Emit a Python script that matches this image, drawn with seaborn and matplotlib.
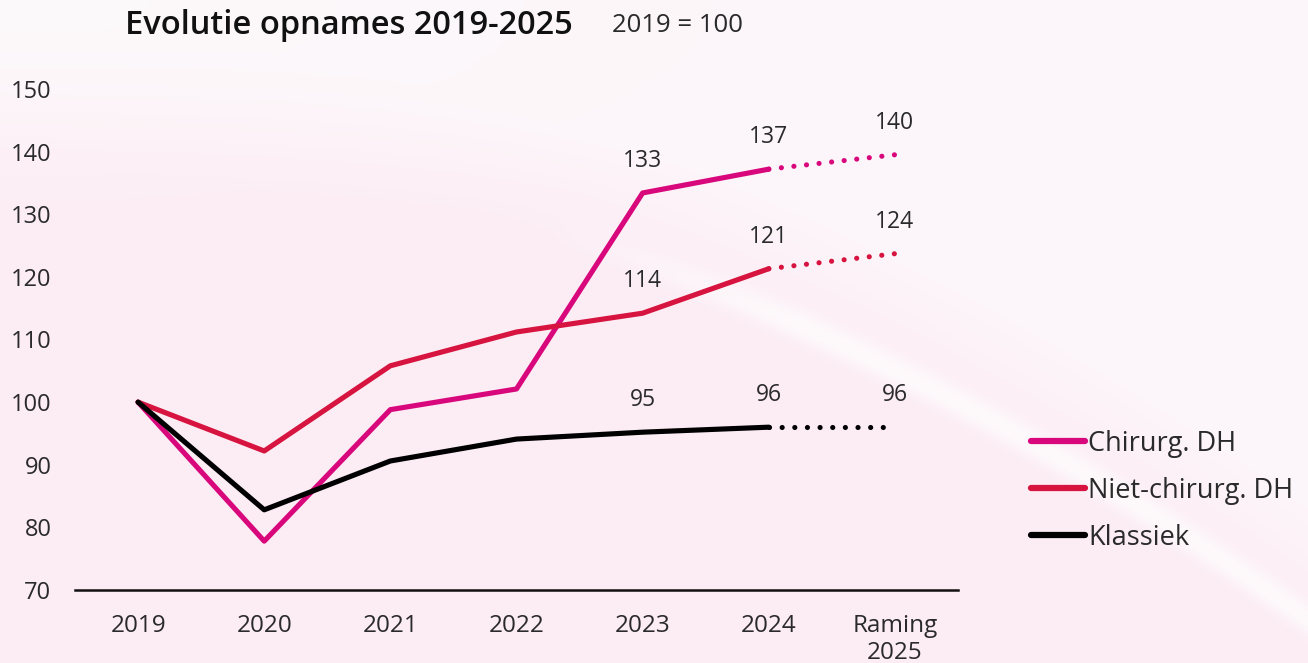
import numpy as np
import pandas as pd
import matplotlib.pyplot as plt
import seaborn as sns

# ==============================
# DATA
# ==============================

years = ["2019", "2020", "2021", "2022", "2023", "2024", "Raming\n2025"]
series_names = ["Chirurg. DH", "Niet-chirurg. DH", "Klassiek"]

chirurg = [100, 77.8, 98.8, 102.1, 133.4, 137.2, 139.5]
niet_chirurg = [100, 92.2, 105.8, 111.2, 114.2, 121.3, 123.7]
klassiek = [100, 82.8, 90.6, 94.1, 95.2, 96.0, 96.0]

# labels shown for the last three points
label_idx = [4, 5, 6]
chirurg_labels = ["133", "137", "140"]
niet_chirurg_labels = ["114", "121", "124"]
klassiek_labels = ["95", "96", "96"]

colors = {"Chirurg. DH": "#d8077c", "Niet-chirurg. DH": "#d6143f", "Klassiek": "#000000"}

# ==============================
# BUILD TABLE
# ==============================

rows = []
for name, vals in zip(series_names, [chirurg, niet_chirurg, klassiek]):
    for i, v in enumerate(vals):
        rows.append({"Serie": name, "x": i, "Jaar": years[i], "Waarde": v})
df = pd.DataFrame(rows)
df_real = df[df["x"] <= 5]
df_raming = df[df["x"] >= 5]

# ==============================
# PLOT
# ==============================

sns.set_theme(style="white")
plt.rcParams["font.family"] = ["Open Sans", "DejaVu Sans"]

TXT = "#2a2a2a"

fig = plt.figure(figsize=(13.08, 6.63), dpi=100)

# soft pink background with a lighter diagonal band
bg = fig.add_axes([0, 0, 1, 1], zorder=-10)
H, W = 663, 1308
yy, xx = np.mgrid[0:H, 0:W]
below = np.array([252, 236, 244], dtype=float)
above = np.array([252, 245, 249], dtype=float)
curve = 95 + 0.00026 * xx ** 2 + 0.03 * xx
d = (yy - curve) / 140.0
t = np.clip(0.5 - d, 0, 1)
img = below[None, None, :] * (1 - t[..., None]) + above[None, None, :] * t[..., None]
# lighter top-left corner
corner = np.clip(1 - np.hypot(xx / 900.0, yy / 250.0), 0, 1)
img = img * (1 - corner[..., None] * 0.6) + 253 * corner[..., None] * 0.6
band = np.exp(-((yy - curve - 40) / 16.0) ** 2) * np.clip((xx - 550) / 250, 0, 1)
img = img * (1 - band[..., None] * 0.75) + 254 * band[..., None] * 0.75
bg.imshow(img.astype(np.uint8), aspect="auto", extent=[0, 1, 0, 1])
bg.axis("off")

ax = fig.add_axes([75 / W, 1 - 590 / H, (958 - 75) / W, (590 - 89) / H])
ax.set_facecolor("none")

sns.lineplot(data=df_real, x="x", y="Waarde", hue="Serie", palette=colors,
             hue_order=series_names, linewidth=3.7, ax=ax, legend=True)
for name in series_names:
    sub = df_raming[df_raming["Serie"] == name]
    sns.lineplot(data=sub, x="x", y="Waarde", color=colors[name], linewidth=3.7,
                 linestyle=(0, (0.01, 2.45)), dash_capstyle="round", ax=ax, legend=False)

for ln in ax.get_lines():
    ln.set_solid_capstyle("round")
    ln.set_dash_capstyle("round")

# value labels
for vals, labs in zip([chirurg, niet_chirurg, klassiek],
                      [chirurg_labels, niet_chirurg_labels, klassiek_labels]):
    for i, lab in zip(label_idx, labs):
        ax.annotate(lab, (i, vals[i]), xytext=(0, 23), textcoords="offset points",
                    ha="center", va="center", fontsize=16.5, color=TXT)

ax.set_xlim(-0.5, 6.5)
ax.set_ylim(70, 150)
ax.set_xticks(range(len(years)))
ax.set_xticklabels(years, fontsize=17.5, color=TXT, linespacing=1.2)
ax.set_yticks(range(70, 151, 10))
ax.set_yticklabels([str(v) for v in range(70, 151, 10)], fontsize=17, color=TXT)
ax.tick_params(axis="x", length=0, pad=17)
ax.tick_params(axis="y", length=0, pad=17)
ax.set_xlabel("")
ax.set_ylabel("")
ax.grid(False)
for s in ["top", "right", "left"]:
    ax.spines[s].set_visible(False)
ax.spines["bottom"].set_color("#111111")
ax.spines["bottom"].set_linewidth(1.8)

handles, labels = ax.get_legend_handles_labels()
for h in handles:
    h.set_linewidth(4.5)
    h.set_solid_capstyle("round")
leg = ax.legend(handles, labels, loc="center left", bbox_to_anchor=(1.055, 0.198),
                frameon=False, fontsize=19.5, handlelength=2.0, handletextpad=0.12,
                labelspacing=0.7)
for t in leg.get_texts():
    t.set_color(TXT)

fig.text(125 / W, 1 - 25 / H, "Evolutie opnames 2019-2025", fontsize=23.5,
         fontweight="semibold", color="#111111", va="center", ha="left")
fig.text(612 / W, 1 - 26 / H, "2019 = 100", fontsize=18.5,
         color=TXT, va="center", ha="left")

fig.savefig("out.png", dpi=100)
